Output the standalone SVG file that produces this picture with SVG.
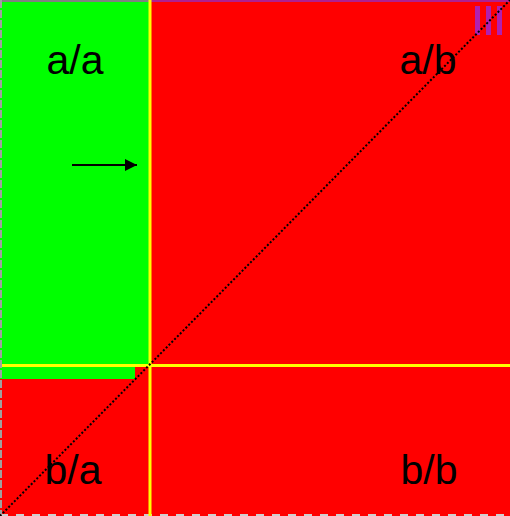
<svg xmlns="http://www.w3.org/2000/svg" width="510" height="516" viewBox="0 0 510 516">
<style>
.lbl{font-family:"Liberation Sans",Arial,sans-serif;font-size:41px;fill:#000;text-anchor:middle}
.yl{stroke:#ffff00;stroke-width:3;fill:none}
.bar{fill:#b020b0}
</style>
<defs>
<marker id="ah" viewBox="0 0 10 10" refX="10" refY="5" markerWidth="12" markerHeight="12" markerUnits="userSpaceOnUse" orient="auto">
<path d="M0,0 L10,5 L0,10 Z" fill="#000"/>
</marker>
</defs>
<g id="regions">
<rect x="0" y="0" width="510" height="516" fill="#ff0000"/>
<path d="M0,0 H150 V365 H135 V379 H0 Z" fill="#00ff00"/>
</g>
<g id="borders">
<line x1="150" y1="1" x2="510" y2="1" stroke="#b0208f" stroke-width="2"/>
<line x1="0" y1="1" x2="150" y2="1" stroke="#808080" stroke-width="2"/>
<line x1="1" y1="0" x2="1" y2="516" stroke="#a0a0a0" stroke-width="2" stroke-dasharray="8,2"/>
<line x1="0" y1="515" x2="510" y2="515" stroke="#d0d0d0" stroke-width="2" stroke-dasharray="8,8"/>
</g>
<g id="marks">
<rect class="bar" x="475" y="6" width="5" height="29"/>
<rect class="bar" x="486" y="6" width="5" height="29"/>
<rect class="bar" x="497" y="6" width="5" height="29"/>
</g>
<g id="connectors">
<line class="yl" x1="150" y1="0" x2="150" y2="516"/>
<line class="yl" x1="2" y1="365.5" x2="510" y2="365.5"/>
<line x1="0" y1="516" x2="510" y2="0" stroke="#000" stroke-width="2" stroke-dasharray="2,2"/>
<line x1="72" y1="165" x2="137" y2="165" stroke="#000" stroke-width="1.8" marker-end="url(#ah)"/>
</g>
<g id="node-aa"><text class="lbl" x="75" y="74">a/a</text></g>
<g id="node-ab"><text class="lbl" x="428" y="74">a/b</text></g>
<g id="node-ba"><text class="lbl" x="73" y="484">b/a</text></g>
<g id="node-bb"><text class="lbl" x="429" y="484">b/b</text></g>
</svg>
